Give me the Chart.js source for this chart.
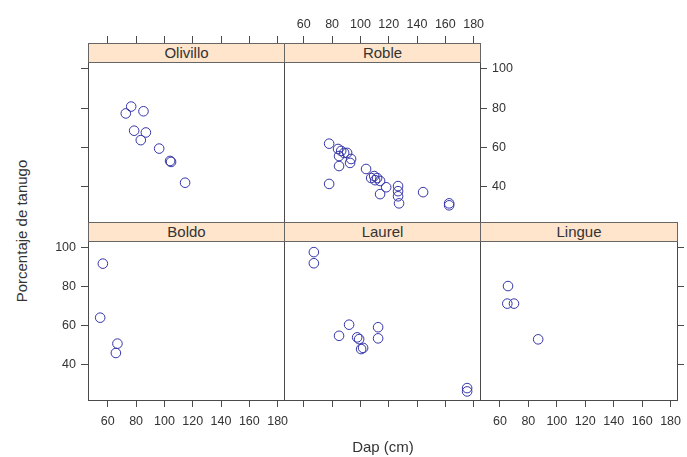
<!DOCTYPE html>
<html>
<head>
<meta charset="utf-8">
<script src="https://cdn.jsdelivr.net/npm/chart.js@4.4.0/dist/chart.umd.min.js"></script>
<style>
  body { margin: 0; background: #fff; }
  #fig { position: relative; width: 687px; height: 457px; overflow: hidden; font-family: "Liberation Sans", Arial, sans-serif; }
  #fig canvas { position: absolute; }
  .strip { position: absolute; background: #ffe5cc; border: 1px solid #666; box-sizing: border-box; text-align: center; color: #333; font-size: 15px; }
  .titulo { position: absolute; width: 220px; text-align: center; color: #333; font-size: 15px; line-height: 18px; }
</style>
</head>
<body>
<div id="fig"></div>
<script>
// Datos
const especies = ['Olivillo', 'Roble', 'Boldo', 'Laurel', 'Lingue'];

const olivilloDap = [76.5, 72.7, 85.2, 78.6, 86.9, 83.3, 96.3, 104, 104.7, 114.6];
const olivilloTan = [80.8, 77.3, 78.4, 68.5, 67.6, 63.7, 59.4, 53.1, 52.6, 42.0];

const robleDap = [77.9, 77.9, 84.2, 86.4, 88.5, 90.6, 84.9, 93.4, 84.9, 92.7, 104, 107.6, 109.7, 111.8, 113.9, 110.4, 118.2, 113.9, 126.6, 126.6, 126.6, 127.3, 144.3, 162.7, 162.7];
const robleTan = [61.9, 41.4, 59.2, 58.2, 57.2, 57.2, 55.6, 54.1, 50.5, 52.1, 49.0, 44.4, 45.4, 44.4, 42.9, 43.3, 39.7, 36.2, 40.3, 37.7, 35.1, 31.5, 37.2, 30.5, 31.5];

const boldoDap = [56.5, 54.6, 66.8, 65.7];
const boldoTan = [91.9, 64.2, 50.9, 46.1];

const laurelDap = [67.1, 67.1, 92.0, 84.9, 97.7, 99.1, 101.9, 100.5, 112.5, 112.5, 175.4, 175.4];
const laurelTan = [97.8, 92.1, 60.6, 54.9, 54.1, 53.2, 48.7, 48.1, 59.3, 53.6, 28.1, 26.4];

const lingueDap = [65.7, 65.2, 69.9, 86.9];
const lingueTan = [80.4, 71.4, 71.4, 53.1];

const xTicks = [60, 80, 100, 120, 140, 160, 180];
const yTicks = [40, 60, 80, 100];

// Geometria de la rejilla (lattice 3 x 2)
const M = 50;
const colX = [88, 284, 480, 677];
const filas = [
    { strip: 43, panel: 62, bottom: 222 },
    { strip: 222, panel: 241, bottom: 400 }
];
const xRango = [46, 184.5];
const yRango = [22, 103.5];
const colorPunto = '#3434a8';
const colorBorde = '#4a4a4a';

// ejes: [top, right, bottom, left] -> 'full' (marcas + etiquetas), 'ticks' (solo marcas), 'none'
const paneles = [
    { nombre: especies[0], dap: olivilloDap, tan: olivilloTan, fila: 0, col: 0, ejes: ['ticks', 'none', 'none', 'ticks'] },
    { nombre: especies[1], dap: robleDap, tan: robleTan, fila: 0, col: 1, ejes: ['full', 'full', 'none', 'none'] },
    { nombre: especies[2], dap: boldoDap, tan: boldoTan, fila: 1, col: 0, ejes: ['none', 'none', 'full', 'full'] },
    { nombre: especies[3], dap: laurelDap, tan: laurelTan, fila: 1, col: 1, ejes: ['none', 'none', 'ticks', 'none'] },
    { nombre: especies[4], dap: lingueDap, tan: lingueTan, fila: 1, col: 2, ejes: ['none', 'ticks', 'full', 'none'] }
];

const fig = document.getElementById('fig');

function eje(pos, modo, min, max) {
    const horizontal = pos === 'top' || pos === 'bottom';
    return {
        type: 'linear',
        position: pos,
        min: min,
        max: max,
        afterFit: s => { if (horizontal) s.height = M; else s.width = M; },
        afterBuildTicks: s => { s.ticks = (horizontal ? xTicks : yTicks).map(v => ({ value: v })); },
        border: { display: true, color: colorBorde, width: 1 },
        grid: { display: modo !== 'none', drawOnChartArea: false, drawTicks: true, tickLength: 7, color: colorBorde },
        ticks: {
            display: modo !== 'none',
            autoSkip: false,
            maxRotation: 0,
            padding: pos === 'top' ? 4 : (pos === 'bottom' ? 7 : 5),
            color: '#333',
            font: { family: '"Liberation Sans", Arial, sans-serif', size: 12.5 },
            callback: v => modo === 'full' ? v : ''
        }
    };
}

paneles.forEach(p => {
    const f = filas[p.fila];
    const x0 = colX[p.col], x1 = colX[p.col + 1];
    const w = x1 - x0, h = f.bottom - f.strip;
    // el rango y se extiende hasta cubrir la franja del titulo
    const pxPorUnidad = (f.bottom - f.panel) / (yRango[1] - yRango[0]);
    const yMax = yRango[1] + (f.panel - f.strip) / pxPorUnidad;

    const canvas = document.createElement('canvas');
    canvas.width = w + 2 * M;
    canvas.height = h + 2 * M;
    canvas.style.left = (x0 - M) + 'px';
    canvas.style.top = (f.strip - M) + 'px';
    fig.appendChild(canvas);

    new Chart(canvas, {
        type: 'scatter',
        data: {
            datasets: [{
                label: p.nombre,
                data: p.dap.map((d, i) => ({ x: d, y: p.tan[i] })),
                pointStyle: 'circle',
                pointRadius: 4.8,
                pointBorderWidth: 1,
                pointBorderColor: colorPunto,
                pointBackgroundColor: 'rgba(0,0,0,0)',
                xAxisID: 'x',
                yAxisID: 'y'
            }]
        },
        options: {
            responsive: false,
            animation: false,
            layout: { padding: 0 },
            plugins: { legend: { display: false }, tooltip: { enabled: false } },
            scales: {
                x2: eje('top', p.ejes[0], xRango[0], xRango[1]),
                y2: eje('right', p.ejes[1], yRango[0], yMax),
                x: eje('bottom', p.ejes[2], xRango[0], xRango[1]),
                y: eje('left', p.ejes[3], yRango[0], yMax)
            }
        }
    });

    const strip = document.createElement('div');
    strip.className = 'strip';
    strip.style.left = x0 + 'px';
    strip.style.top = f.strip + 'px';
    strip.style.width = (w + 1) + 'px';
    strip.style.height = (f.panel - f.strip + 1) + 'px';
    strip.style.lineHeight = (f.panel - f.strip - 1) + 'px';
    strip.textContent = p.nombre;
    fig.appendChild(strip);
});

// Titulos de ejes
const tx = document.createElement('div');
tx.className = 'titulo';
tx.textContent = 'Dap (cm)';
tx.style.left = (383 - 110) + 'px';
tx.style.top = (447 - 9) + 'px';
fig.appendChild(tx);

const ty = document.createElement('div');
ty.className = 'titulo';
ty.textContent = 'Porcentaje de tanugo';
ty.style.left = (22 - 110) + 'px';
ty.style.top = (231 - 9) + 'px';
ty.style.transform = 'rotate(-90deg)';
fig.appendChild(ty);
</script>
</body>
</html>
